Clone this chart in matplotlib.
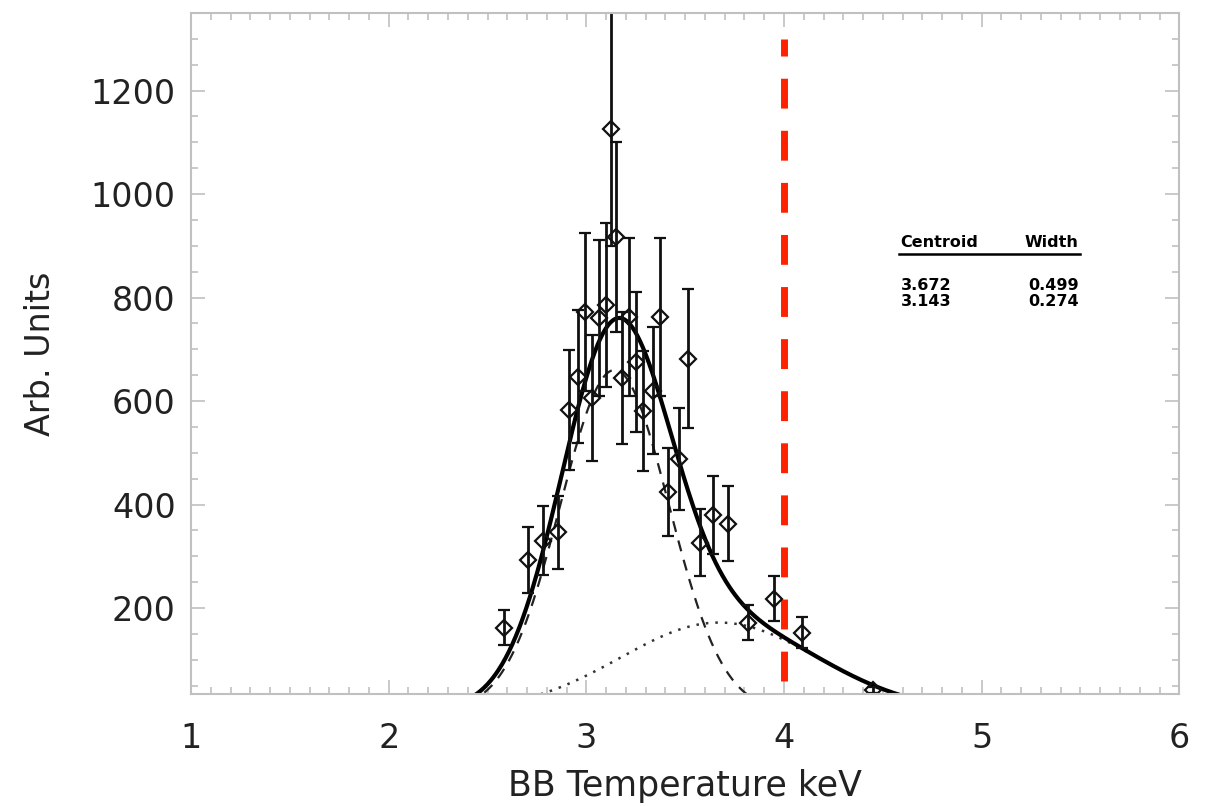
import numpy as np
from matplotlib import pyplot as plt
from matplotlib.ticker import MultipleLocator

# data points
temp = [2.584, 2.705, 2.781, 2.857, 2.913, 2.958, 2.994, 3.029, 3.065, 3.100,
        3.125, 3.151, 3.181, 3.217, 3.252, 3.287, 3.338, 3.373, 3.414, 3.470,
        3.515, 3.576, 3.642, 3.718, 3.819, 3.950, 4.092, 4.451]
counts = [162, 293, 330, 346, 583, 647, 772, 606, 761, 786,
          1126, 917, 645, 763, 676, 581, 620, 763, 425, 488,
          682, 326, 380, 363, 172, 218, 152, 42]
errs = [34, 63, 67, 70, 116, 129, 153, 122, 151, 158,
        226, 183, 128, 153, 135, 116, 123, 153, 85, 99,
        135, 65, 76, 72, 34, 43, 30, 6]

# fit components (centroid, width from the table; amplitude estimated)
centroids = [3.672, 3.143]
widths = [0.499, 0.274]
amps = [172, 660]

line_x = 4.0

x = np.linspace(2.2, 4.8, 600)
g_broad = amps[0] * np.exp(-0.5 * ((x - centroids[0]) / widths[0]) ** 2)
g_narrow = amps[1] * np.exp(-0.5 * ((x - centroids[1]) / widths[1]) ** 2)

fig = plt.figure(figsize=(12.17, 8.06), dpi=100)
ax = fig.add_axes([0.157, 0.139, 0.812, 0.845])

ax.plot(x, g_narrow, color='#222222', lw=1.6, ls=(0, (5, 4)))
ax.plot(x, g_broad, color='#333333', lw=1.8, ls=(0, (1, 2.8)))
ax.plot(x, g_broad + g_narrow, color='black', lw=3)

ax.errorbar(temp, counts, yerr=errs, fmt='D', ms=8, mfc='none', mec='#111111',
            mew=1.6, ecolor='#111111', elinewidth=2, capsize=4.5, capthick=2)

ax.plot([line_x, line_x], [60, 1300], color='#ff2200', lw=5, ls=(0, (4.3, 3.2)))

ax.set_xlim(1, 6)
ax.set_ylim(34, 1350)
ax.xaxis.set_major_locator(MultipleLocator(1))
ax.xaxis.set_minor_locator(MultipleLocator(0.1))
ax.yaxis.set_major_locator(MultipleLocator(200))
ax.yaxis.set_minor_locator(MultipleLocator(50))
ax.set_yticks([200, 400, 600, 800, 1000, 1200])

for s in ax.spines.values():
    s.set_color('#c0c0c0')
    s.set_linewidth(1.5)
ax.tick_params(which='both', direction='in', top=True, right=True,
               color='#c0c0c0', width=1.2, labelsize=24, labelcolor='#222222')
ax.tick_params(which='major', length=10)
ax.tick_params(which='minor', length=5)
ax.tick_params(axis='x', which='major', pad=20)
ax.tick_params(axis='y', which='major', pad=11)

ax.set_xlabel('BB Temperature keV', fontsize=25, color='#222222', labelpad=10)
ax.set_ylabel('Arb. Units', fontsize=24, color='#222222', labelpad=24)

# fit parameter table
tl, tr = 4.59, 5.49
ax.text(tl, 898, 'Centroid', fontsize=11.5, fontweight='bold', ha='left', va='baseline')
ax.text(tr, 898, 'Width', fontsize=11.5, fontweight='bold', ha='right', va='baseline')
ax.plot([tl - 0.01, tr + 0.01], [884, 884], color='black', lw=1.8)
ax.text(tl, 815, f'{centroids[0]:.3f}', fontsize=11.5, fontweight='bold', ha='left', va='baseline')
ax.text(tr, 815, f'{widths[0]:.3f}', fontsize=11.5, fontweight='bold', ha='right', va='baseline')
ax.text(tl, 784, f'{centroids[1]:.3f}', fontsize=11.5, fontweight='bold', ha='left', va='baseline')
ax.text(tr, 784, f'{widths[1]:.3f}', fontsize=11.5, fontweight='bold', ha='right', va='baseline')

fig.savefig('out.png', dpi=100)
